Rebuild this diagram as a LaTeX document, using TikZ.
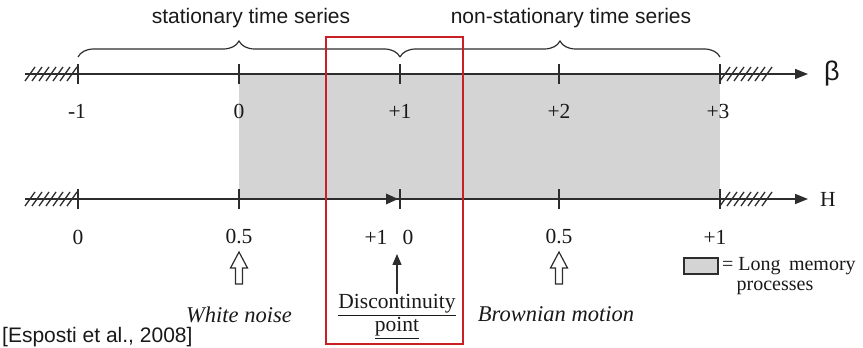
\documentclass[tikz,border=0pt]{standalone}
\usepackage{fontspec}
\setmainfont{Liberation Serif}
\setsansfont{Liberation Sans}
\usetikzlibrary{arrows.meta,decorations.pathreplacing}
\definecolor{longmem}{RGB}{212,212,212}
\definecolor{redbox}{RGB}{200,32,36}
\definecolor{axiscol}{RGB}{45,45,45}
\definecolor{txt}{RGB}{25,25,25}
\begin{document}
\begin{tikzpicture}[x=1pt,y=1pt,
  axisline/.style={line width=1.5pt, draw=axiscol, -{Triangle[length=13pt,width=10pt]}},
  tickmark/.style={line width=1.5pt, draw=axiscol},
  hatchline/.style={line width=1.3pt, draw=axiscol},
  bracestyle/.style={line width=1.2pt, draw=axiscol, decorate, decoration={brace,amplitude=16pt}},
  lbl/.style={font=\fontsize{21.5}{24}\selectfont, text=txt, inner sep=0pt},
  ital/.style={font=\fontsize{22.5}{25}\selectfont\itshape, text=txt, inner sep=0pt},
  sanslbl/.style={font=\sffamily\fontsize{21}{24}\selectfont, text=txt, inner sep=0pt},
  hollowarrow/.style={line width=1.2pt, draw=axiscol, fill=white},
]
\useasboundingbox (0,0) rectangle (863,348);

% shaded long-memory region
\fill[longmem] (239,149) rectangle (720,274);

% axes
\coordinate (ta0) at (25,274);
\coordinate (ta1) at (808,274);
\coordinate (ba0) at (25,149);
\coordinate (ba1) at (808,149);
\draw[axisline] (ta0) -- (ta1);
\draw[axisline] (ba0) -- (ba1);

% ticks
\foreach \x in {78,239,400,559,720} {
  \draw[tickmark] (\x,264) -- (\x,284);
  \draw[tickmark] (\x,139) -- (\x,159);
}

% hatches
\foreach \x in {25,32,...,67} {
  \draw[hatchline] (\x,267) -- ({\x+10},281);
  \draw[hatchline] (\x,142) -- ({\x+10},156);
}
\foreach \x in {720,727,...,762} {
  \draw[hatchline] (\x,267) -- ({\x+10},281);
  \draw[hatchline] (\x,142) -- ({\x+10},156);
}

% discontinuity arrowhead on H axis
\fill[axiscol] (386,154.5) -- (398,149) -- (386,143.5) -- cycle;

% axis names
\node[font=\sffamily\fontsize{27}{30}\selectfont, text=txt, inner sep=0pt] (beta) at (832,274) {β};
\node[lbl] (Hname) at (828,149) {H};

% braces and top texts
\draw[bracestyle] (78,291) -- (400,291);
\draw[bracestyle] (400,291) -- (720,291);
\node[sanslbl] (stat) at (251,330) {stationary time series};
\node[sanslbl] (nonstat) at (571,330) {non-stationary time series};

% beta labels
\node[lbl] (bm1) at (77,237) {-1};
\node[lbl] (b0) at (239,237) {0};
\node[lbl] (b1) at (400,237) {+1};
\node[lbl] (b2) at (559,237) {+2};
\node[lbl] (b3) at (718,237) {+3};

% H labels
\node[lbl] (h0) at (78,111) {0};
\node[lbl] (h05) at (239,111) {0.5};
\node[lbl] (h1a) at (376,111) {+1};
\node[lbl] (h0b) at (408,111) {0};
\node[lbl] (h05b) at (559,111) {0.5};
\node[lbl] (h1) at (715,111) {+1};

% hollow arrows
\foreach \c in {239,559} {
  \draw[hollowarrow] ({\c-3.5},64) -- ({\c-3.5},80) -- ({\c-8.5},80) -- (\c,96)
     -- ({\c+8.5},80) -- ({\c+3.5},80) -- ({\c+3.5},64) -- cycle;
}

% bottom texts
\node[ital] (wn) at (239,33) {White noise};
\node[ital] (bm) at (556,34) {Brownian motion};
\node[lbl] (disc) at (397,43) {\underline{Discontinuity}};
\node[lbl] (pt) at (397,20) {\underline{point}};
\coordinate (discup) at (397,94);
\draw[line width=1.3pt, draw=axiscol, -{Triangle[length=11pt,width=9pt]}] (disc.north) -- (discup);

% red box
\draw[redbox, line width=2.5pt] (326,4) rectangle (463,311);

% legend
\draw[line width=1.2pt, draw=axiscol, fill=longmem] (684,74) rectangle (718,90);
\node[lbl, anchor=west, font=\fontsize{20}{23}\selectfont] (leg1) at (722,82) {= Long\, memory};
\node[lbl, font=\fontsize{20}{23}\selectfont] (leg2) at (775,60) {processes};

% citation
\node[sanslbl, anchor=west] (cite) at (2,11) {[Esposti et al., 2008]};
\end{tikzpicture}
\end{document}
